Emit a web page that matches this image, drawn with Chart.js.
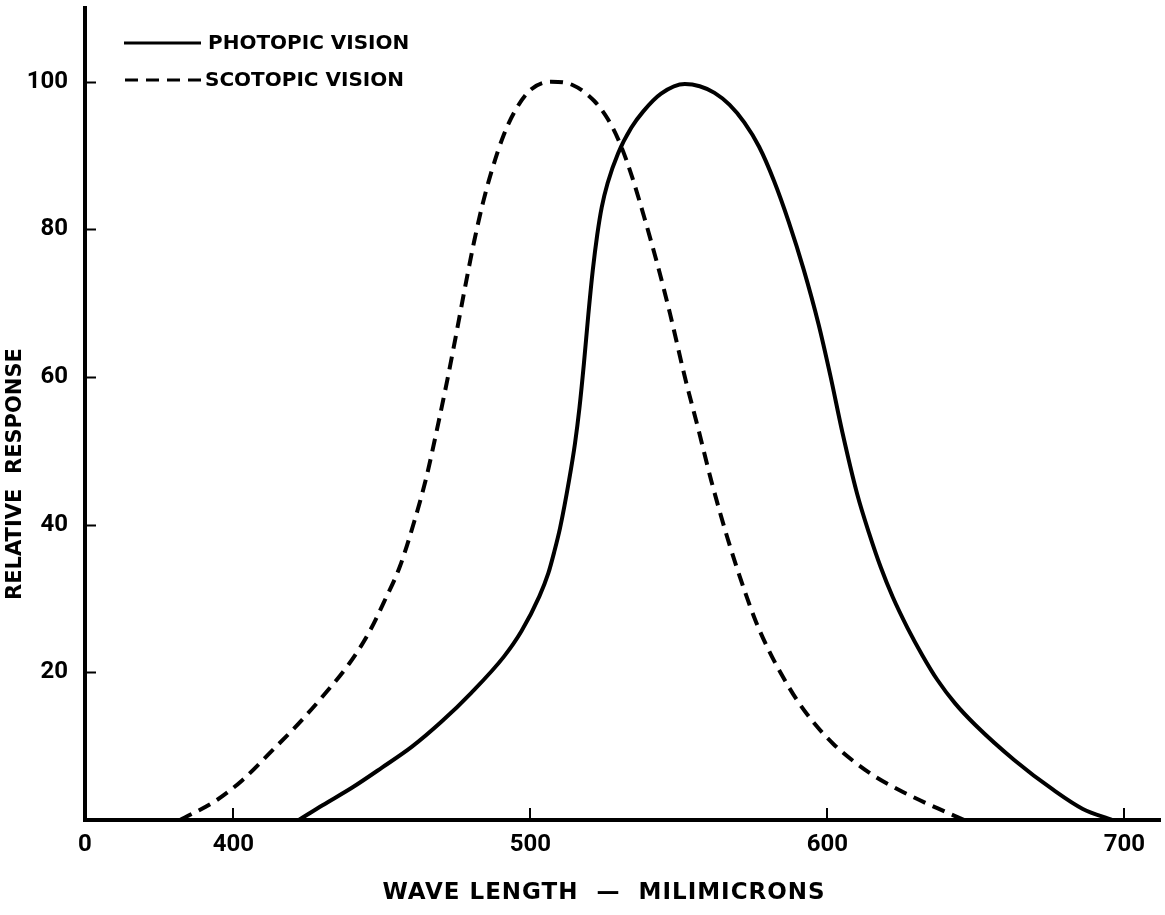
<!DOCTYPE html>
<html>
<head>
<meta charset="utf-8">
<title>Photopic and Scotopic Vision</title>
<script src="https://cdn.jsdelivr.net/npm/chart.js@4.4.1/dist/chart.umd.min.js"></script>
<style>
  html, body { margin: 0; padding: 0; background: #ffffff; }
  #wrap { width: 1165px; height: 915px; }
</style>
</head>
<body>
<div id="wrap"><canvas id="chart" width="1165" height="915"></canvas></div>
<script>
// Relative response of the eye, wave length in millimicrons
const photopicWavelength = [422, 430, 440, 450, 460, 470, 480, 491, 497, 503, 506, 508, 510, 513, 515, 516.5, 518, 519.5, 521, 522.5, 524, 526, 529.5, 534, 538, 544, 552, 557, 562, 567, 572, 577, 582, 587, 592, 597, 601, 605, 610, 614, 618, 622, 627, 632, 637, 643, 650, 663, 676, 686, 696];
const photopicResponse   = [0, 2.0, 4.4, 7.1, 9.9, 13.3, 17.2, 22.1, 25.6, 30.3, 33.4, 36.3, 39.6, 46.0, 51.0, 55.8, 61.8, 68.5, 74.5, 79.3, 83.0, 86.3, 90.3, 93.8, 96.0, 98.4, 99.7, 99.4, 98.5, 96.9, 94.5, 91.2, 86.6, 81.0, 74.6, 67.2, 60.2, 52.6, 44.2, 38.9, 34.2, 30.2, 26.0, 22.3, 19.0, 15.8, 12.8, 8.1, 4.1, 1.5, 0];

const scotopicWavelength = [382, 394, 403, 413, 422, 431, 439, 445.5, 451, 456, 461, 465, 469, 472, 475, 478, 481, 484, 487, 491, 495, 500, 507, 514, 521.5, 526, 530, 534, 538.5, 543, 547, 552, 556.5, 561, 566.5, 572, 576, 580, 585, 590, 596, 602, 609, 616, 624, 631, 637, 646];
const scotopicResponse   = [0, 2.6, 5.4, 9.4, 13.1, 17.2, 21.2, 25.3, 29.8, 34.3, 40.6, 46.5, 53.8, 59.6, 65.8, 72.2, 78.3, 83.6, 88.0, 92.8, 96.2, 98.9, 100, 99.6, 97.4, 95.0, 91.8, 87.4, 81.4, 74.9, 68.6, 60.0, 53.0, 45.8, 38.0, 31.2, 26.8, 23.2, 19.4, 16.1, 12.9, 10.3, 7.9, 5.9, 4.1, 2.7, 1.6, 0];

// Axis ticks (the wave length axis is broken: its origin is labelled 0)
const xTickValues = [350, 400, 500, 600, 700];
const xTickLabels = ['0', '400', '500', '600', '700'];
const yTickValues = [20, 40, 60, 80, 100];

const seriesLabels = ['PHOTOPIC VISION', 'SCOTOPIC VISION'];
const axisTitleX = 'WAVE LENGTH  \u2014  MILIMICRONS';
const axisTitleY = 'RELATIVE  RESPONSE';

const FONT = '"DejaVu Sans", "Liberation Sans", sans-serif';
const TICK_FONT = 'Roboto, "DejaVu Sans", sans-serif';
const INK = '#000000';

function toPoints(xs, ys) {
  return xs.map((x, i) => ({ x: x, y: ys[i] }));
}

// Short tick marks pointing into the plot area
const inwardTicks = {
  id: 'inwardTicks',
  afterDatasetsDraw(chart) {
    const { ctx, chartArea, scales } = chart;
    ctx.save();
    ctx.strokeStyle = INK;
    ctx.lineWidth = 2;
    ctx.beginPath();
    yTickValues.forEach(v => {
      const y = Math.round(scales.y.getPixelForValue(v)) + 0.5;
      ctx.moveTo(chartArea.left, y);
      ctx.lineTo(chartArea.left + 11, y);
    });
    xTickValues.forEach(v => {
      if (v === scales.x.min) return;
      const x = Math.round(scales.x.getPixelForValue(v));
      ctx.moveTo(x, chartArea.bottom);
      ctx.lineTo(x, chartArea.bottom - 12);
    });
    ctx.stroke();
    ctx.restore();
  }
};

// Line-sample key in the upper left corner
const lineKey = {
  id: 'lineKey',
  afterDraw(chart) {
    const { ctx } = chart;
    const rows = [
      { x0: 124, x1: 201, y: 43, tx: 208 },
      { x0: 125, x1: 203, y: 80, tx: 205 }
    ];
    ctx.save();
    chart.data.datasets.forEach((ds, i) => {
      const r = rows[i];
      ctx.strokeStyle = ds.borderColor;
      ctx.lineWidth = 3;
      ctx.setLineDash(ds.borderDash || []);
      ctx.beginPath();
      ctx.moveTo(r.x0, r.y);
      ctx.lineTo(r.x1, r.y);
      ctx.stroke();
      ctx.setLineDash([]);
      ctx.fillStyle = INK;
      ctx.font = 'bold 20px ' + FONT;
      ctx.textBaseline = 'middle';
      ctx.textAlign = 'left';
      ctx.fillText(ds.label, r.tx, r.y + 1);
    });
    ctx.restore();
  }
};

// Axis titles
const axisTitles = {
  id: 'axisTitles',
  afterDraw(chart) {
    const { ctx } = chart;
    ctx.save();
    ctx.fillStyle = INK;
    ctx.textAlign = 'center';
    ctx.textBaseline = 'middle';
    ctx.font = 'bold 23px ' + FONT;
    if ('letterSpacing' in ctx) ctx.letterSpacing = '1px';
    ctx.fillText(axisTitleX, 604, 893);
    if ('letterSpacing' in ctx) ctx.letterSpacing = '0px';
    ctx.translate(16, 474);
    ctx.rotate(-Math.PI / 2);
    ctx.font = 'bold 21px ' + FONT;
    ctx.fillText(axisTitleY, 0, 0);
    ctx.restore();
  }
};

new Chart(document.getElementById('chart'), {
  type: 'line',
  data: {
    datasets: [
      {
        label: seriesLabels[0],
        data: toPoints(photopicWavelength, photopicResponse),
        borderColor: INK,
        borderWidth: 4,
        pointRadius: 0,
        cubicInterpolationMode: 'monotone',
        fill: false
      },
      {
        label: seriesLabels[1],
        data: toPoints(scotopicWavelength, scotopicResponse),
        borderColor: INK,
        borderWidth: 4,
        borderDash: [13, 8],
        pointRadius: 0,
        cubicInterpolationMode: 'monotone',
        fill: false
      }
    ]
  },
  options: {
    responsive: false,
    animation: false,
    events: [],
    layout: { padding: { top: 8, right: 5, left: 0, bottom: 0 } },
    plugins: {
      legend: { display: false },
      tooltip: { enabled: false },
      title: { display: false }
    },
    scales: {
      x: {
        type: 'linear',
        min: 350,
        max: 712,
        afterFit(scale) {
          scale.height = 95;
          scale.paddingLeft = 0;
          scale.paddingRight = 0;
        },
        afterBuildTicks(scale) { scale.ticks = xTickValues.map(v => ({ value: v })); },
        grid: { display: true, drawOnChartArea: false, drawTicks: false },
        border: { display: true, color: INK, width: 4 },
        ticks: {
          autoSkip: false,
          maxRotation: 0,
          padding: 11,
          color: INK,
          font: { family: TICK_FONT, size: 24, weight: 'bold' },
          callback: (value) => xTickLabels[xTickValues.indexOf(value)]
        }
      },
      y: {
        type: 'linear',
        min: 0,
        max: 110,
        afterFit(scale) {
          scale.width = 85;
          scale.paddingTop = 0;
          scale.paddingBottom = 0;
        },
        afterBuildTicks(scale) { scale.ticks = yTickValues.map(v => ({ value: v })); },
        grid: { display: true, drawOnChartArea: false, drawTicks: false },
        border: { display: true, color: INK, width: 4 },
        ticks: {
          autoSkip: false,
          padding: 17,
          color: INK,
          font: { family: TICK_FONT, size: 24, weight: 'bold' }
        }
      }
    }
  },
  plugins: [inwardTicks, lineKey, axisTitles]
});
</script>
</body>
</html>
